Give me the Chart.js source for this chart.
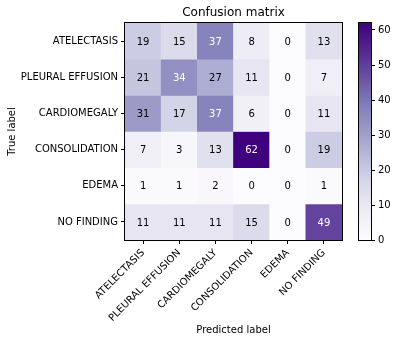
<!DOCTYPE html>
<html>
<head>
<meta charset="utf-8">
<script src="https://cdn.jsdelivr.net/npm/chart.js@4.4.1/dist/chart.umd.min.js"></script>
<style>
	html, body { margin: 0; padding: 0; background: #fff; }
	#wrap { position: relative; width: 396px; height: 344px; }
	#cm { position: absolute; left: 0; top: 0; }
	#cbar { position: absolute; left: 350px; top: 0; }
</style>
</head>
<body>
<div id="wrap">
	<canvas id="cm" width="396" height="344"></canvas>
	<canvas id="cbar" width="46" height="344"></canvas>
</div>
<script>
// class names, same order for true (rows) and predicted (columns)
var classes = ['ATELECTASIS', 'PLEURAL EFFUSION', 'CARDIOMEGALY', 'CONSOLIDATION', 'EDEMA', 'NO FINDING'];

// one row of counts per true label
var rowAtelectasis = [19, 15, 37, 8, 0, 13];
var rowPleuralEffusion = [21, 34, 27, 11, 0, 7];
var rowCardiomegaly = [31, 17, 37, 6, 0, 11];
var rowConsolidation = [7, 3, 13, 62, 0, 19];
var rowEdema = [1, 1, 2, 0, 0, 1];
var rowNoFinding = [11, 11, 11, 15, 0, 49];

var colorbarTicks = [0, 10, 20, 30, 40, 50, 60];

var matrix = [rowAtelectasis, rowPleuralEffusion, rowCardiomegaly, rowConsolidation, rowEdema, rowNoFinding];
var vmin = 0;
var vmax = Math.max.apply(null, [].concat.apply([], matrix));

// matplotlib "Purples"
var purplesStops = [
	[252, 251, 253], [239, 237, 245], [218, 218, 235], [188, 189, 220], [158, 154, 200],
	[128, 125, 186], [106, 81, 163], [84, 39, 143], [63, 0, 125]
];

function purples(v) {
	var t = (v - vmin) / (vmax - vmin);
	t = Math.max(0, Math.min(1, t)) * (purplesStops.length - 1);
	var i = Math.min(Math.floor(t), purplesStops.length - 2);
	var f = t - i;
	var a = purplesStops[i], b = purplesStops[i + 1];
	return 'rgb(' + [0, 1, 2].map(function(k) {
		return Math.round(a[k] + (b[k] - a[k]) * f);
	}).join(',') + ')';
}

Chart.defaults.font.family = "'DejaVu Sans', sans-serif";
Chart.defaults.font.size = 10;
Chart.defaults.color = '#000';

var tickGrid = {
	display: true,
	drawOnChartArea: false,
	drawTicks: true,
	tickLength: 4,
	tickWidth: 1,
	color: '#000',
	offset: false
};

// axes frame drawn round the plot area
var framePlugin = {
	id: 'frame',
	afterDraw: function(chart) {
		var a = chart.chartArea, ctx = chart.ctx;
		ctx.save();
		ctx.strokeStyle = '#000';
		ctx.lineWidth = 1;
		ctx.strokeRect(Math.round(a.left) - 0.5, Math.round(a.top) - 0.5, Math.round(a.right - a.left) + 1, Math.round(a.bottom - a.top) + 1);
		ctx.restore();
	}
};

// count written in the middle of each cell
var cellTextPlugin = {
	id: 'cellText',
	afterDatasetsDraw: function(chart) {
		var ctx = chart.ctx, x = chart.scales.x, y = chart.scales.y;
		ctx.save();
		ctx.font = "10px 'DejaVu Sans'";
		ctx.textAlign = 'center';
		ctx.textBaseline = 'middle';
		matrix.forEach(function(row, i) {
			row.forEach(function(v, j) {
				ctx.fillStyle = v > vmax / 2 ? '#fff' : '#000';
				ctx.fillText(String(v), x.getPixelForValue(j), y.getPixelForValue(i) + 1);
			});
		});
		ctx.restore();
	}
};

new Chart(document.getElementById('cm'), {
	type: 'bar',
	data: {
		labels: classes,
		datasets: matrix.map(function(row, i) {
			return {
				data: row.map(function() { return [i - 0.5, i + 0.5]; }),
				backgroundColor: row.map(purples),
				borderWidth: 0,
				grouped: false,
				barPercentage: 1,
				categoryPercentage: 1
			};
		})
	},
	options: {
		responsive: false,
		animation: false,
		devicePixelRatio: 1,
		layout: { padding: { left: 0, right: 54, top: 0, bottom: 0 } },
		plugins: {
			legend: { display: false },
			tooltip: { enabled: false },
			title: {
				display: true,
				fullSize: false,
				text: 'Confusion matrix',
				color: '#000',
				font: { size: 12, weight: 'normal' },
				padding: { top: 6, bottom: 2.6 }
			}
		},
		scales: {
			x: {
				type: 'category',
				grid: tickGrid,
				border: { display: false },
				ticks: { autoSkip: false, minRotation: 45, maxRotation: 45, padding: 3, color: '#000' },
				title: { display: true, text: 'Predicted label', color: '#000', padding: { top: 0, bottom: 8 } },
				afterFit: function(s) { s.height = 104; }
			},
			y: {
				type: 'linear',
				min: -0.5,
				max: 5.5,
				reverse: true,
				grid: tickGrid,
				border: { display: false },
				afterBuildTicks: function(s) {
					s.ticks = classes.map(function(c, i) { return { value: i }; });
				},
				ticks: {
					padding: 3,
					color: '#000',
					callback: function(v) { return classes[v]; }
				},
				title: { display: true, text: 'True label', color: '#000', padding: { top: 6, bottom: 0 } },
				afterFit: function(s) { s.width = 125; }
			}
		}
	},
	plugins: [cellTextPlugin, framePlugin]
});

// colour bar
new Chart(document.getElementById('cbar'), {
	type: 'bar',
	data: {
		labels: [''],
		datasets: [{
			data: [[vmin, vmax]],
			borderWidth: 0,
			barPercentage: 1,
			categoryPercentage: 1,
			backgroundColor: function(ctx) {
				var area = ctx.chart.chartArea;
				if (!area) return purples(vmin);
				var g = ctx.chart.ctx.createLinearGradient(0, area.bottom, 0, area.top);
				purplesStops.forEach(function(c, k) {
					g.addColorStop(k / (purplesStops.length - 1), 'rgb(' + c.join(',') + ')');
				});
				return g;
			}
		}]
	},
	options: {
		responsive: false,
		animation: false,
		devicePixelRatio: 1,
		layout: { padding: { left: 9, right: 0, top: 23, bottom: 104 } },
		plugins: { legend: { display: false }, tooltip: { enabled: false } },
		scales: {
			x: { display: false },
			y: {
				position: 'right',
				min: vmin,
				max: vmax,
				grid: tickGrid,
				border: { display: false },
				afterBuildTicks: function(s) {
					s.ticks = colorbarTicks.map(function(v) { return { value: v }; });
				},
				ticks: { padding: 3, color: '#000' },
				afterFit: function(s) { s.width = 25; }
			}
		}
	},
	plugins: [framePlugin]
});
</script>
</body>
</html>
